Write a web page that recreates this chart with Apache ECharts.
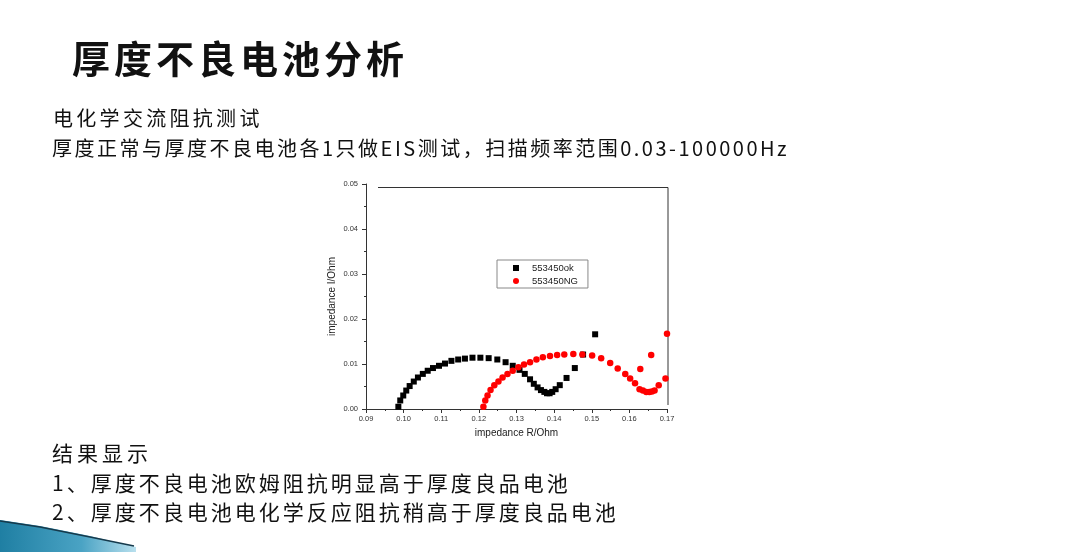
<!DOCTYPE html>
<html>
<head>
<meta charset="utf-8">
<script src="https://cdn.jsdelivr.net/npm/echarts@6/dist/echarts.min.js"></script>
<style>
  html, body { margin: 0; padding: 0; background: #fff; }
  #wrap { position: relative; width: 1080px; height: 552px; overflow: hidden; }
  #main { position: absolute; left: 0; top: 0; width: 1080px; height: 552px; }
  .txt { position: absolute; white-space: nowrap; color: #111; font-family: "Noto Sans CJK SC", sans-serif; line-height: 1; pointer-events: none; }
</style>
</head>
<body>
<div id="wrap">
  <div id="main"></div>
  <div class="txt" style="left:72px;top:38px;font-size:38px;font-weight:700;letter-spacing:4px;">厚度不良电池分析</div>
  <div class="txt" style="left:53px;top:108px;font-size:20px;letter-spacing:3.3px;">电化学交流阻抗测试</div>
  <div class="txt" style="left:52px;top:138px;font-size:20px;letter-spacing:2.5px;">厚度正常与厚度不良电池各1只做EIS测试，扫描频率范围0.03-100000Hz</div>
  <div class="txt" style="left:52px;top:442px;font-size:21px;letter-spacing:4px;">结果显示</div>
  <div class="txt" style="left:52px;top:472px;font-size:21px;letter-spacing:3px;">1、厚度不良电池欧姆阻抗明显高于厚度良品电池</div>
  <div class="txt" style="left:52px;top:501px;font-size:21px;letter-spacing:3px;">2、厚度不良电池电化学反应阻抗稍高于厚度良品电池</div>
</div>
<script>
// 图例名称
var seriesNames = ['553450ok', '553450NG'];

// 553450ok 实部 / 虚部
var okR = [0.0986, 0.0991, 0.0999, 0.1007, 0.1016, 0.1027, 0.1038, 0.1051, 0.1064, 0.1078,
  0.1094, 0.1110, 0.1127, 0.1145, 0.1163, 0.1183, 0.1204, 0.1226, 0.1249, 0.1271,
  0.1290, 0.1308, 0.1322, 0.1336, 0.1346, 0.1356, 0.1365, 0.1374, 0.1381, 0.1388,
  0.1395, 0.1404, 0.1415, 0.1433, 0.1455, 0.1477, 0.1509];
var okI = [0.0005, 0.0019, 0.0030, 0.0041, 0.0051, 0.0061, 0.0070, 0.0078, 0.0085, 0.0091,
  0.0096, 0.0101, 0.0107, 0.0110, 0.0112, 0.0114, 0.0114, 0.0113, 0.0110, 0.0104,
  0.0096, 0.0087, 0.0078, 0.0066, 0.0056, 0.0048, 0.0042, 0.0038, 0.0035, 0.0035,
  0.0038, 0.0044, 0.0053, 0.0069, 0.0091, 0.0121, 0.0166];

// 553450NG 实部 / 虚部
var ngR = [0.1212, 0.1217, 0.1223, 0.1231, 0.1241, 0.1252, 0.1263, 0.1276, 0.1290, 0.1305,
  0.1320, 0.1336, 0.1353, 0.1370, 0.1389, 0.1408, 0.1427, 0.1451, 0.1475, 0.1501,
  0.1525, 0.1549, 0.1569, 0.1589, 0.1602, 0.1615, 0.1627, 0.1636, 0.1645, 0.1653,
  0.1660, 0.1667, 0.1678, 0.1696, 0.1629, 0.1658, 0.1700];
var ngI = [0.0005, 0.0019, 0.0030, 0.0042, 0.0053, 0.0061, 0.0070, 0.0078, 0.0085, 0.0093,
  0.0099, 0.0104, 0.0110, 0.0115, 0.0118, 0.0120, 0.0121, 0.0122, 0.0121, 0.0119,
  0.0113, 0.0102, 0.0090, 0.0078, 0.0068, 0.0057, 0.0044, 0.0041, 0.0038, 0.0038,
  0.0039, 0.0041, 0.0053, 0.0068, 0.0089, 0.0120, 0.0167];

// 坐标轴
var xMin = 0.09, xMax = 0.17, xStep = 0.01;
var yMin = 0, yMax = 0.05, yStep = 0.01;

function pairs(xs, ys) {
  var out = [];
  for (var i = 0; i < xs.length; i++) {
    out.push([xs[i], ys[i]]);
  }
  return out;
}

var axisFont = 'Liberation Sans, Arial, sans-serif';

var chart = echarts.init(document.getElementById('main'));

var option = {
  backgroundColor: '#fff',
  animation: false,
  grid: {
    left: 366,
    top: 184,
    right: 413,
    bottom: 143
  },
  legend: {
    data: [
      { name: seriesNames[0], icon: 'rect' },
      { name: seriesNames[1], icon: 'circle' }
    ],
    orient: 'vertical',
    left: 497,
    top: 260,
    itemWidth: 6,
    itemHeight: 6,
    itemGap: 3,
    padding: [3, 10, 2, 16],
    borderColor: '#888',
    borderWidth: 1,
    textStyle: {
      fontFamily: axisFont,
      fontSize: 9.5,
      color: '#222',
      padding: [0, 0, 0, 8]
    }
  },
  xAxis: {
    type: 'value',
    min: xMin,
    max: xMax,
    interval: xStep,
    name: 'impedance R/Ohm',
    nameLocation: 'middle',
    nameGap: 19,
    nameTextStyle: { fontFamily: axisFont, fontSize: 10, color: '#222' },
    axisLine: { show: true, onZero: false, lineStyle: { color: '#333', width: 1 } },
    axisTick: { show: true, inside: false, length: 4, lineStyle: { color: '#333' } },
    minorTick: { show: true, splitNumber: 2, length: 2, lineStyle: { color: '#333' } },
    axisLabel: {
      margin: 6,
      fontFamily: axisFont,
      fontSize: 7.5,
      color: '#333',
      formatter: function (v) { return v.toFixed(2); }
    },
    splitLine: { show: false }
  },
  yAxis: {
    type: 'value',
    min: yMin,
    max: yMax,
    interval: yStep,
    name: 'impedance I/Ohm',
    nameLocation: 'middle',
    nameGap: 29,
    nameTextStyle: { fontFamily: axisFont, fontSize: 10, color: '#222' },
    axisLine: { show: true, onZero: false, lineStyle: { color: '#333', width: 1 } },
    axisTick: { show: true, inside: false, length: 4, lineStyle: { color: '#333' } },
    minorTick: { show: true, splitNumber: 2, length: 2, lineStyle: { color: '#333' } },
    axisLabel: {
      margin: 8,
      fontFamily: axisFont,
      fontSize: 7.5,
      color: '#333',
      formatter: function (v) { return v.toFixed(2); }
    },
    splitLine: { show: false }
  },
  graphic: [
    // 图框上边、右边
    { type: 'line', shape: { x1: 378, y1: 187.5, x2: 668, y2: 187.5 }, style: { stroke: '#333', lineWidth: 1 }, silent: true },
    { type: 'line', shape: { x1: 668, y1: 187.5, x2: 668, y2: 405 }, style: { stroke: '#333', lineWidth: 1 }, silent: true },
    // 左下角装饰
    {
      type: 'polygon',
      shape: { points: [[0, 520], [40, 526], [90, 536], [136, 547], [136, 552], [0, 552]] },
      style: {
        fill: new echarts.graphic.LinearGradient(0, 0, 1, 0, [
          { offset: 0, color: '#1f7fa3' },
          { offset: 0.6, color: '#4aa3c4' },
          { offset: 1, color: '#b9e0ee' }
        ])
      },
      silent: true
    },
    {
      type: 'polyline',
      shape: { points: [[0, 521], [40, 527], [90, 537], [134, 546]] },
      style: { stroke: '#163a4c', lineWidth: 1.6, fill: null },
      silent: true
    }
  ],
  series: [
    {
      name: seriesNames[0],
      type: 'scatter',
      symbol: 'rect',
      symbolSize: 6,
      itemStyle: { color: '#000', opacity: 1 },
      data: pairs(okR, okI)
    },
    {
      name: seriesNames[1],
      type: 'scatter',
      symbol: 'circle',
      symbolSize: 6.5,
      itemStyle: { color: '#ff0000', opacity: 1 },
      data: pairs(ngR, ngI)
    }
  ]
};

chart.setOption(option);
</script>
</body>
</html>
